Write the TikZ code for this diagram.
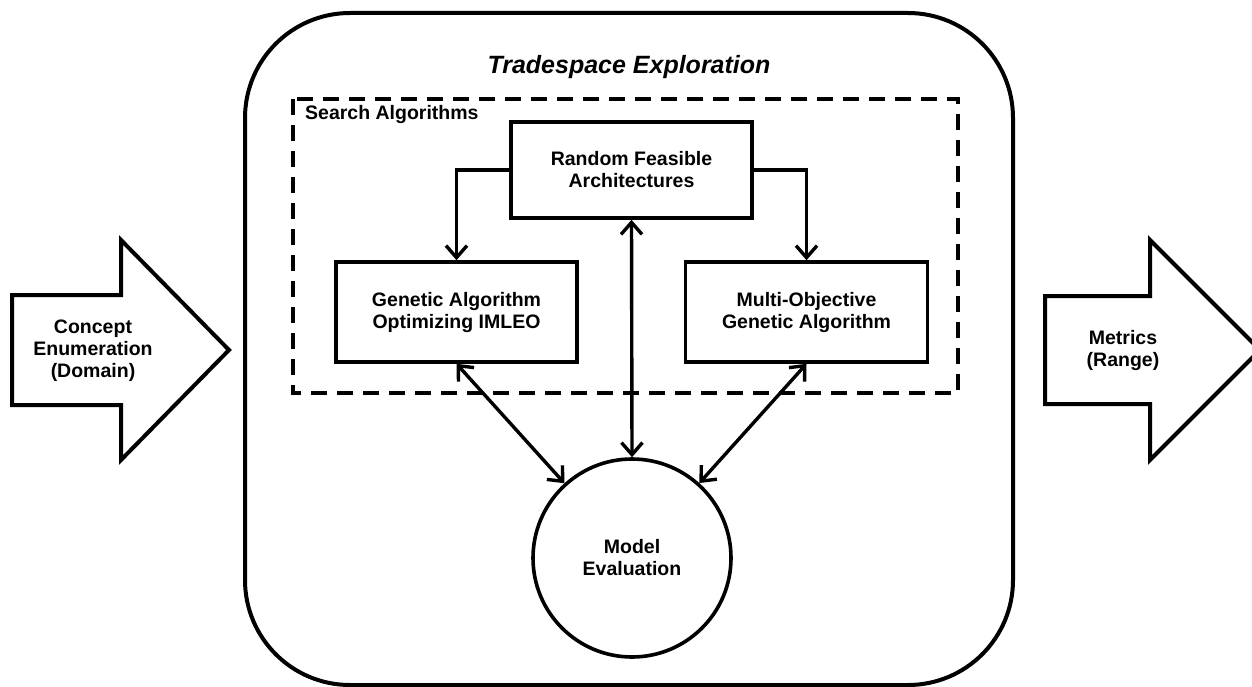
\documentclass[tikz,border=0pt]{standalone}
\usepackage{fontspec}
\setmainfont{Liberation Sans}
\usetikzlibrary{arrows.meta}
\begin{document}
\begin{tikzpicture}[x=1pt,y=-1pt,
  lbl/.style={font=\fontsize{19.5}{22}\selectfont\bfseries, align=center},
  boxnode/.style={draw, line width=3.6pt, inner sep=0pt, lbl},
  bigarrow/.style={draw, line width=4pt, line join=miter},
  conn/.style={line width=3.4pt, {Straight Barb[length=12pt,width=21pt,line width=3.4pt]}-{Straight Barb[length=12pt,width=21pt,line width=3.4pt]}},
  oneway/.style={line width=3.4pt, -{Straight Barb[length=12pt,width=21pt,line width=3.4pt]}}
]
\useasboundingbox (0,0) rectangle (1252,687);

% outer frame of the exploration stage
\draw[line width=4pt, rounded corners=105pt] (245,13) rectangle (1013,685);
\node[font=\fontsize{25}{30}\selectfont\bfseries\itshape] (title) at (629,67) {Tradespace Exploration};

% dashed group of search algorithms
\draw[line width=3.6pt, dash pattern=on 16pt off 10pt] (293,99) rectangle (958,393);
\node[lbl, anchor=west, inner sep=0pt] (search) at (305,115) {Search Algorithms};

% algorithm boxes
\node[boxnode, minimum width=241pt, minimum height=96pt] (random) at (631.5,170) {Random Feasible\\Architectures};
\node[boxnode, minimum width=241pt, minimum height=100pt] (ga) at (456.5,312) {Genetic Algorithm\\Optimizing IMLEO};
\node[boxnode, minimum width=242pt, minimum height=100pt] (moga) at (806.5,312) {Multi-Objective\\Genetic Algorithm};

% model evaluation
\node[draw, circle, line width=3.6pt, minimum size=198pt, inner sep=0pt, lbl] (eval) at (632,558) {Model\\Evaluation};

% connectors
\draw[oneway] (random.west) -| (ga.north);
\draw[oneway] (random.east) -| (moga.north);
\draw[conn] (random.south) -- (eval.north);
\draw[conn] (ga.south) -- (eval);
\draw[conn] (moga.south) -- (eval);

% input and output block arrows
\draw[bigarrow] (12,295) -- (121,295) -- (121,240) -- (229,350) -- (121,460) -- (121,405) -- (12,405) -- cycle;
\node[lbl] (domain) at (93,351) {Concept\\Enumeration\\(Domain)};
\draw[bigarrow] (1045,296) -- (1150,296) -- (1150,240) -- (1260,350) -- (1150,460) -- (1150,404) -- (1045,404) -- cycle;
\node[lbl] (range) at (1123,350) {Metrics\\(Range)};
\end{tikzpicture}
\end{document}
